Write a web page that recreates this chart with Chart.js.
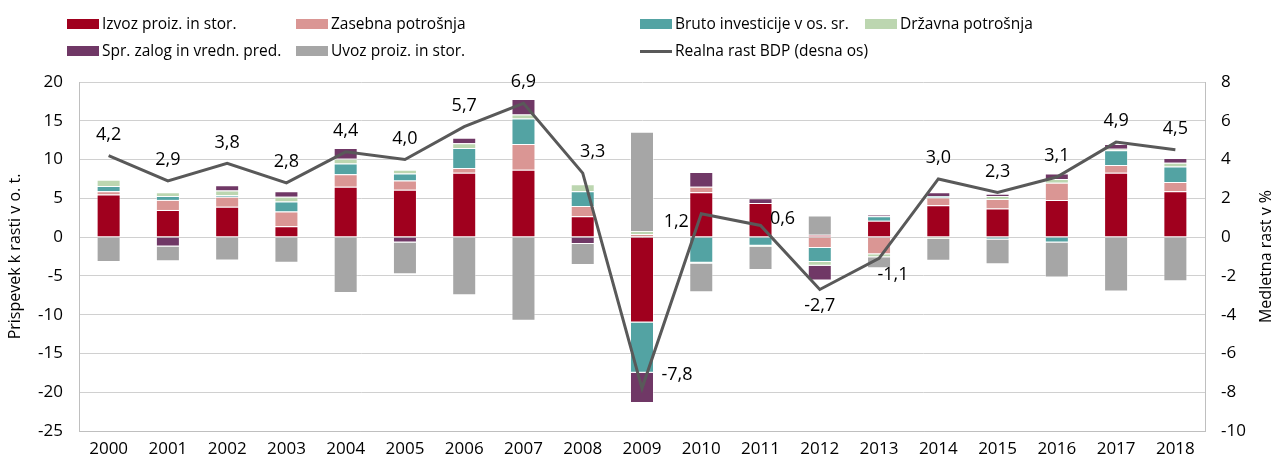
<!DOCTYPE html>
<html>
<head>
<meta charset="utf-8">
<script src="https://cdn.jsdelivr.net/npm/chart.js@4.4.1/dist/chart.umd.min.js"></script>
<style>
  html, body { margin: 0; padding: 0; background: #fff; }
  #wrap { position: relative; width: 1275px; height: 463px; font-family: 'Open Sans', sans-serif; }
  canvas { position: absolute; left: 0; top: 0; }
  .lg { position: absolute; font-size: 15.5px; color: #000; white-space: nowrap; line-height: 20px; }
  .sw { position: absolute; width: 32px; height: 10px; }
  .ln { position: absolute; width: 32px; height: 3px; background: #595959; }
</style>
</head>
<body>
<div id="wrap">
  <canvas id="c" width="1275" height="463"></canvas>
  <div id="legend"></div>
</div>
<script>
// ---- data ----
const categories = ['2000','2001','2002','2003','2004','2005','2006','2007','2008','2009','2010','2011','2012','2013','2014','2015','2016','2017','2018'];
const izvoz   = [5.5, 3.5, 3.9, 1.4, 6.5, 6.1, 8.3, 8.7, 2.7, -11.0, 5.8, 4.4, 0.3, 2.1, 4.1, 3.7, 4.8, 8.3, 5.9];
const zasebna = [0.4, 1.3, 1.3, 1.9, 1.6, 1.2, 0.6, 3.3, 1.3, 0.4, 0.7, 0.0, -1.4, -2.2, 1.0, 1.2, 2.2, 1.0, 1.2];
const bruto   = [0.7, 0.5, 0.2, 1.3, 1.4, 0.9, 2.6, 3.3, 1.9, -6.5, -3.3, -1.1, -1.8, 0.6, 0.2, -0.3, -0.7, 1.9, 2.0];
const drzavna = [0.8, 0.5, 0.6, 0.6, 0.6, 0.5, 0.6, 0.5, 0.9, 0.4, -0.1, -0.15, -0.5, -0.4, -0.25, 0.4, 0.5, 0.2, 0.5];
const zalogi  = [0.0, -1.2, 0.7, 0.7, 1.4, -0.7, 0.7, 2.0, -0.9, -3.9, 1.9, 0.6, -1.9, 0.2, 0.5, 0.3, 0.7, 0.6, 0.6];
const uvoz    = [-3.2, -1.9, -3.0, -3.3, -7.2, -4.1, -7.5, -10.8, -2.7, 12.8, -3.7, -3.0, 2.5, -1.4, -2.8, -3.2, -4.5, -7.0, -5.7];
const bdp     = [4.2, 2.9, 3.8, 2.8, 4.4, 4.0, 5.7, 6.9, 3.3, -7.8, 1.2, 0.6, -2.7, -1.1, 3.0, 2.3, 3.1, 4.9, 4.5];

const seriesNames = ['Izvoz proiz. in stor.', 'Zasebna potrošnja', 'Bruto investicije v os. sr.', 'Državna potrošnja', 'Spr. zalog in vredn. pred.', 'Uvoz proiz. in stor.', 'Realna rast BDP (desna os)'];
const colors = ['#A0001E', '#DA9694', '#53A3A3', '#BCD6B0', '#703866', '#A6A6A6', '#595959'];
const leftTitle = 'Prispevek k rasti v o. t.';
const rightTitle = 'Medletna rast v %';

// ---- legend (HTML) ----
const legendLayout = [
  {i:0, x:67,  y:24}, {i:1, x:296, y:24}, {i:2, x:640, y:24}, {i:3, x:865, y:24},
  {i:4, x:67,  y:51}, {i:5, x:296, y:51}, {i:6, x:640, y:51}
];
const lg = document.getElementById('legend');
legendLayout.forEach(p => {
  const mk = document.createElement('div');
  if (p.i === 6) { mk.className = 'ln'; mk.style.left = p.x + 'px'; mk.style.top = (p.y - 1.5) + 'px'; }
  else { mk.className = 'sw'; mk.style.left = p.x + 'px'; mk.style.top = (p.y - 5) + 'px'; mk.style.background = colors[p.i]; }
  lg.appendChild(mk);
  const t = document.createElement('div');
  t.className = 'lg'; t.textContent = seriesNames[p.i];
  t.style.left = (p.x + 35) + 'px'; t.style.top = (p.y - 11) + 'px';
  lg.appendChild(t);
});

// ---- chart ----
Chart.defaults.font.family = "'Open Sans', sans-serif";
Chart.defaults.color = '#000';

const barSeries = [izvoz, zasebna, bruto, drzavna, zalogi, uvoz];
const datasets = barSeries.map((d, i) => ({
  type: 'bar', label: seriesNames[i], data: d, backgroundColor: colors[i],
  borderColor: 'rgba(255,255,255,0.45)', borderWidth: 1,
  yAxisID: 'y', stack: 's', order: 1,
  categoryPercentage: 1.0, barPercentage: 0.405
}));
datasets.push({
  type: 'line', label: seriesNames[6], data: bdp, borderColor: colors[6], backgroundColor: colors[6],
  borderWidth: 3, pointRadius: 0, tension: 0, yAxisID: 'y2', order: 0
});

// label offsets relative to each point (style only)
const labelOffsets = { 8: [10, -21], 9: [35, -13], 10: [-25, 8], 11: [22, -7], 12: [0, 16], 13: [14, 16] };
const lineLabels = {
  id: 'lineLabels',
  afterDatasetsDraw(chart) {
    const ctx = chart.ctx;
    const meta = chart.getDatasetMeta(6);
    ctx.save();
    ctx.font = "18px 'Open Sans', sans-serif";
    ctx.fillStyle = '#000';
    ctx.textAlign = 'center';
    ctx.textBaseline = 'middle';
    meta.data.forEach((pt, i) => {
      const off = labelOffsets[i] || [0, -21];
      const txt = bdp[i].toFixed(1).replace('.', ',');
      ctx.fillText(txt, pt.x + off[0], pt.y + off[1]);
    });
    ctx.restore();
  }
};

// right axis title, read bottom-to-top like the left one
const rightAxisTitle = {
  id: 'rightAxisTitle',
  afterDraw(chart) {
    const ctx = chart.ctx;
    const s = chart.scales.y2;
    ctx.save();
    ctx.font = "16px 'Open Sans', sans-serif";
    ctx.fillStyle = '#000';
    ctx.textAlign = 'center';
    ctx.textBaseline = 'middle';
    ctx.translate(s.right - 9, (s.top + s.bottom) / 2);
    ctx.rotate(-Math.PI / 2);
    ctx.fillText(rightTitle, 0, 0);
    ctx.restore();
  }
};

new Chart(document.getElementById('c'), {
  data: { labels: categories, datasets },
  options: {
    responsive: false, animation: false,
    layout: { padding: { top: 82, left: 0, right: 0, bottom: 0 } },
    plugins: { legend: { display: false }, tooltip: { enabled: false } },
    scales: {
      x: {
        stacked: true,
        grid: { display: false, drawTicks: false },
        border: { display: true, color: '#bfbfbf', width: 1 },
        ticks: { font: { size: 17 }, padding: 8, maxRotation: 0 },
        afterFit(s) { s.height = 32; }
      },
      y: {
        stacked: true, position: 'left', min: -25, max: 20,
        ticks: { stepSize: 5, font: { size: 17 }, padding: 16 },
        grid: { color: '#d0d0d0', lineWidth: 1, drawTicks: false },
        border: { display: true, color: '#bfbfbf', width: 1 },
        title: { display: true, text: leftTitle, font: { size: 16 }, padding: { top: 6, bottom: 0 } },
        afterFit(s) { s.width = 79; }
      },
      y2: {
        position: 'right', min: -10, max: 8, stacked: false,
        ticks: { stepSize: 2, font: { size: 17 }, padding: 16 },
        grid: { display: false, drawTicks: false },
        border: { display: true, color: '#bfbfbf', width: 1 },
        title: { display: false, text: rightTitle },
        afterFit(s) { s.width = 70; }
      }
    }
  },
  plugins: [lineLabels, rightAxisTitle]
});
</script>
</body>
</html>
